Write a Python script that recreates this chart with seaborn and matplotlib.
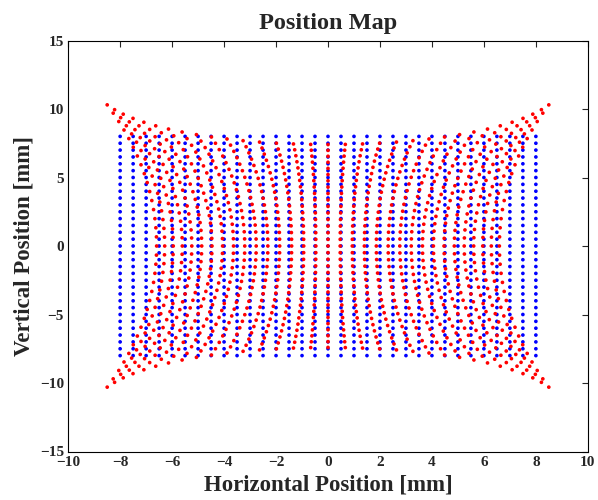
import numpy as np
import pandas as pd
import matplotlib
matplotlib.use("Agg")
import matplotlib.pyplot as plt
import seaborn as sns

# nominal grid levels (mm), same for both axes
grid_mm = [-8.0, -7.5, -7.0, -6.5, -6.0, -5.5, -5.0, -4.5, -4.0, -3.5, -3.0,
           -2.5, -2.0, -1.5, -1.0, -0.5, 0.0, 0.5, 1.0, 1.5, 2.0, 2.5, 3.0,
           3.5, 4.0, 4.5, 5.0, 5.5, 6.0, 6.5, 7.0, 7.5, 8.0]

# measured map:
# x' = x*(a + b*x^2 + c*y^2 + g*x^2*y^2), y' = y*(d + e*x^2 + f*y^2)
x_coef = [0.937, -0.00176, 0.0062, -0.0000388]
y_coef = [0.969, 0.00566, -0.00068]

x_ticks = [-10, -8, -6, -4, -2, 0, 2, 4, 6, 8, 10]
y_ticks = [-15, -10, -5, 0, 5, 10, 15]

gx, gy = np.meshgrid(grid_mm, grid_mm)
gx = gx.ravel()
gy = gy.ravel()
mx = gx * (x_coef[0] + x_coef[1] * gx**2 + x_coef[2] * gy**2 + x_coef[3] * gx**2 * gy**2)
my = gy * (y_coef[0] + y_coef[1] * gx**2 + y_coef[2] * gy**2)

df = pd.concat([
    pd.DataFrame({"x": gx, "y": gy, "set": "ideal"}),
    pd.DataFrame({"x": mx, "y": my, "set": "measured"}),
], ignore_index=True)

sns.set_style("white")
plt.rcParams["font.family"] = ["Liberation Serif", "DejaVu Serif"]
plt.rcParams["font.weight"] = "bold"

fig = plt.figure(figsize=(5.98, 5.0), dpi=100)
ax = fig.add_axes([0.114, 0.097, 0.869, 0.822])

sns.scatterplot(data=df, x="x", y="y", hue="set",
                palette={"ideal": "#0000ff", "measured": "#ff0000"},
                s=7, linewidth=0, legend=False, ax=ax)

ax.set_xlim(-10, 10)
ax.set_ylim(-15, 15)
ax.set_xticks(x_ticks)
ax.set_yticks(y_ticks)
ax.set_xticklabels([str(t).replace("-", "\u2212") for t in x_ticks], fontsize=11, fontweight="bold")
ax.set_yticklabels([str(t).replace("-", "\u2212") for t in y_ticks], fontsize=11, fontweight="bold")
ax.tick_params(direction="in", top=True, right=True, length=4, width=0.8, pad=3)
for sp in ax.spines.values():
    sp.set_visible(True)
    sp.set_color("black")
    sp.set_linewidth(0.8)

ax.set_title("Position Map", fontsize=17.5, fontweight="bold", pad=8)
ax.set_xlabel("Horizontal Position [mm]", fontsize=16.5, fontweight="bold", labelpad=4)
ax.set_ylabel("Vertical Position [mm]", fontsize=16.5, fontweight="bold", labelpad=4)

fig.savefig("out.png", dpi=100)
